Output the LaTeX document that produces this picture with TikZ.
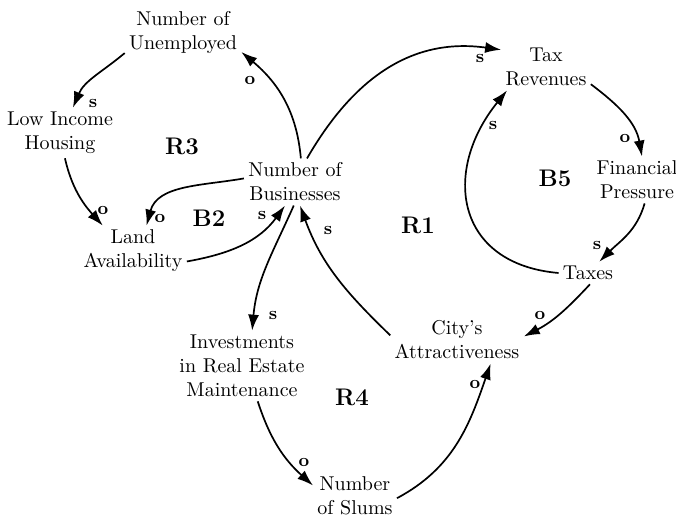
\documentclass[tikz,border=0pt]{standalone}
\usepackage{tikz}
\usetikzlibrary{arrows.meta}
\tikzset{
  % De variabelen in het diagram
  grootheid/.style={%
    align=center,
    inner sep=2pt,
    font=\normalsize
  },
  % Pijl van oorzaak naar gevolg
  koppeling/.style={-{Latex[length=8pt,width=5.5pt]}, line width=0.85pt},
  % Teken bij de pijlpunt (s of o)
  teken/.style={font=\bfseries\small, inner sep=0pt},
  % Naam van een lus
  lus/.style={font=\bfseries\large, inner sep=0pt}
}

\begin{document}
\begin{tikzpicture}[x=0.5pt, y=0.5pt]

  \useasboundingbox (0,0) rectangle (676,520);

  % --- VARIABELEN ---
  \node [grootheid] (unemp)  at (183,487) {Number of\\Unemployed};
  \node [grootheid] (lowinc) at (60,387)  {Low Income\\Housing};
  \node [grootheid] (bus)    at (295,338) {Number of\\Businesses};
  \node [grootheid] (land)   at (133,269) {Land\\Availability};
  \node [grootheid] (invest) at (242,154) {Investments\\in Real Estate\\Maintenance};
  \node [grootheid] (slums)  at (355,24)  {Number\\of Slums};
  \node [grootheid] (city)   at (457,180) {City's\\Attractiveness};
  \node [grootheid] (taxes)  at (588,247) {Taxes};
  \node [grootheid] (taxrev) at (546,453) {Tax\\Revenues};
  \node [grootheid] (finpr)  at (637,340) {Financial\\Pressure};

  % --- LUSSEN ---
  \node [lus] (r3) at (182,374) {R3};
  \node [lus] (b2) at (209,302) {B2};
  \node [lus] (r1) at (418,295) {R1};
  \node [lus] (b5) at (555,342) {B5};
  \node [lus] (r4) at (352,123) {R4};

  % --- PIJLEN ---
  \draw [koppeling] (bus.76)     to[out=95,  in=-40] (unemp.-18);
  \draw [koppeling] (unemp.199)  to[out=220, in=67]  (lowinc.63);
  \draw [koppeling] (lowinc.-79) to[out=-77, in=132] (land.140);
  \draw [koppeling] (bus.176)    to[out=190, in=75]  (land.62);
  \draw [koppeling] (land.-11)   to[out=10,  in=-126] (bus.247);
  \draw [koppeling] (bus.-93)    to[out=-114, in=85] (invest.74);
  \draw [koppeling] (city.176)   to[out=136, in=-70] (bus.-78);
  \draw [koppeling] (bus.63)     to[out=60,  in=172, looseness=1.05] (taxrev.159);
  \draw [koppeling] (taxrev.-21) to[out=-37, in=100] (finpr.78);
  \draw [koppeling] (finpr.-72)  to[out=-106, in=45] (taxes.45);
  \draw [koppeling] (taxes.180)  to[out=175, in=-129, looseness=1.4] (taxrev.211);
  \draw [koppeling] (taxes.-80)  to[out=-133, in=27] (city.3);
  \draw [koppeling] (invest.-66) to[out=-72, in=138] (slums.166);
  \draw [koppeling] (slums.-3)   to[out=28,  in=-109] (city.-35);

  % --- TEKENS ---
  \node [teken] (t1)  at (250,440) {o};
  \node [teken] (t2)  at (93,417)  {s};
  \node [teken] (t3)  at (103,310) {o};
  \node [teken] (t4)  at (160,302) {o};
  \node [teken] (t5)  at (262,305) {s};
  \node [teken] (t6)  at (273,205) {s};
  \node [teken] (t7)  at (328,290) {s};
  \node [teken] (t8)  at (480,462) {s};
  \node [teken] (t9)  at (625,382) {o};
  \node [teken] (t10) at (597,275) {s};
  \node [teken] (t11) at (493,395) {s};
  \node [teken] (t12) at (540,205) {o};
  \node [teken] (t13) at (304,58)  {o};
  \node [teken] (t14) at (475,136) {o};

\end{tikzpicture}
\end{document}
